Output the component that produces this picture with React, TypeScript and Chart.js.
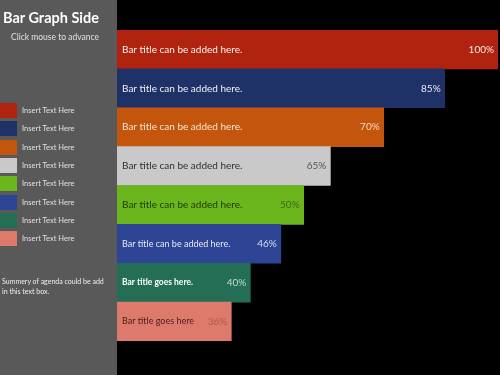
import React, { useEffect, useRef } from "react";
import { Chart, registerables } from "chart.js";

Chart.register(...registerables);

const barTitles = [
  "Bar title can be added here.",
  "Bar title can be added here.",
  "Bar title can be added here.",
  "Bar title can be added here.",
  "Bar title can be added here.",
  "Bar title can be added here.",
  "Bar title goes here.",
  "Bar title goes here",
];
const barValues = [100, 86, 70, 56, 49, 43, 35, 30];
const percentLabels = ["100%", "85%", "70%", "65%", "50%", "46%", "40%", "36%"];
const legendLabels = [
  "Insert Text Here",
  "Insert Text Here",
  "Insert Text Here",
  "Insert Text Here",
  "Insert Text Here",
  "Insert Text Here",
  "Insert Text Here",
  "Insert Text Here",
];
const barColors = ["#B0240F", "#1F3268", "#C3550C", "#C9C9C9", "#6BB51D", "#2E4595", "#236E55", "#DE7A6C"];
const titleColors = ["#F4F4F4", "#F0F0F0", "#F6E6DA", "#303030", "#1F3A08", "#E8E8F4", "#FFFFFF", "#4A1E18"];
const percentColors = ["#F4E8E4", "#E8E8F4", "#F0D8C4", "#555555", "#3E6A14", "#D8DCF0", "#C6D8D0", "#A85A50"];

const titleFonts = [
  "10px Lato",
  "10px Lato",
  "10px Lato",
  "10px Lato",
  "10px Lato",
  "9px Lato",
  "bold 8.5px Lato",
  "9px Lato",
];

const title = "Bar Graph Side";
const subtitle = "Click mouse to advance";
const summary = ["Summery of agenda could be add", "in this text box."];

const labelPlugin = {
  id: "barLabels",
  afterDatasetsDraw(chart: any) {
    const ctx = chart.ctx;
    const meta = chart.getDatasetMeta(0);
    ctx.save();
    ctx.textBaseline = "middle";
    meta.data.forEach((bar: any, i: number) => {
      ctx.font = titleFonts[i];
      ctx.fillStyle = titleColors[i];
      ctx.textAlign = "left";
      ctx.fillText(barTitles[i], bar.base + 5, bar.y);
      ctx.font = "10px Lato";
      ctx.fillStyle = percentColors[i];
      ctx.textAlign = "right";
      ctx.fillText(percentLabels[i], bar.x - 4, bar.y);
    });
    ctx.restore();
  },
};

export default function App() {
  const ref = useRef<HTMLCanvasElement>(null);
  useEffect(() => {
    if (!ref.current) return;
    const chart = new Chart(ref.current, {
      type: "bar",
      data: {
        labels: barTitles.map((_, i) => String(i + 1)),
        datasets: [
          {
            data: barValues,
            backgroundColor: barColors,
            borderWidth: 0,
            barPercentage: 1,
            categoryPercentage: 1,
          },
        ],
      },
      options: {
        indexAxis: "y",
        animation: false,
        responsive: false,
        maintainAspectRatio: false,
        layout: { padding: { left: 117, right: 2, top: 30, bottom: 34 } },
        scales: {
          x: { display: false, min: 0, max: 100 },
          y: { display: false },
        },
        plugins: { legend: { display: false }, tooltip: { enabled: false } },
      },
      plugins: [labelPlugin],
    });
    return () => chart.destroy();
  }, []);

  return (
    <div
      style={{
        position: "fixed",
        left: 0,
        top: 0,
        width: 500,
        height: 375,
        background: "#000",
        overflow: "hidden",
        fontFamily: "Lato, sans-serif",
      }}
    >
      <div
        style={{
          position: "absolute",
          left: 0,
          top: 0,
          width: 117,
          height: 375,
          background: "#595959",
        }}
      />
      <canvas ref={ref} width={500} height={375} style={{ position: "absolute", left: 0, top: 0 }} />
      <div style={{ position: "absolute", left: 3, top: 9, fontSize: 14.5, fontWeight: 700, color: "#fff", whiteSpace: "nowrap" }}>
        {title}
      </div>
      <div style={{ position: "absolute", left: 11, top: 32, fontSize: 8.5, color: "#E0E0E0", whiteSpace: "nowrap" }}>
        {subtitle}
      </div>
      {legendLabels.map((lab, i) => (
        <div key={i} style={{ position: "absolute", left: 0, top: 103 + i * 18.3, height: 15, display: "flex", alignItems: "center" }}>
          <div style={{ width: 17, height: 15, background: barColors[i] }} />
          <span style={{ marginLeft: 5, fontSize: 7.5, color: "#E0E0E0", whiteSpace: "nowrap" }}>{lab}</span>
        </div>
      ))}
      <div style={{ position: "absolute", left: 2, top: 276, fontSize: 7, lineHeight: "10px", color: "#EEEEEE", whiteSpace: "nowrap" }}>
        {summary.map((s, i) => (
          <div key={i}>{s}</div>
        ))}
      </div>
    </div>
  );
}
